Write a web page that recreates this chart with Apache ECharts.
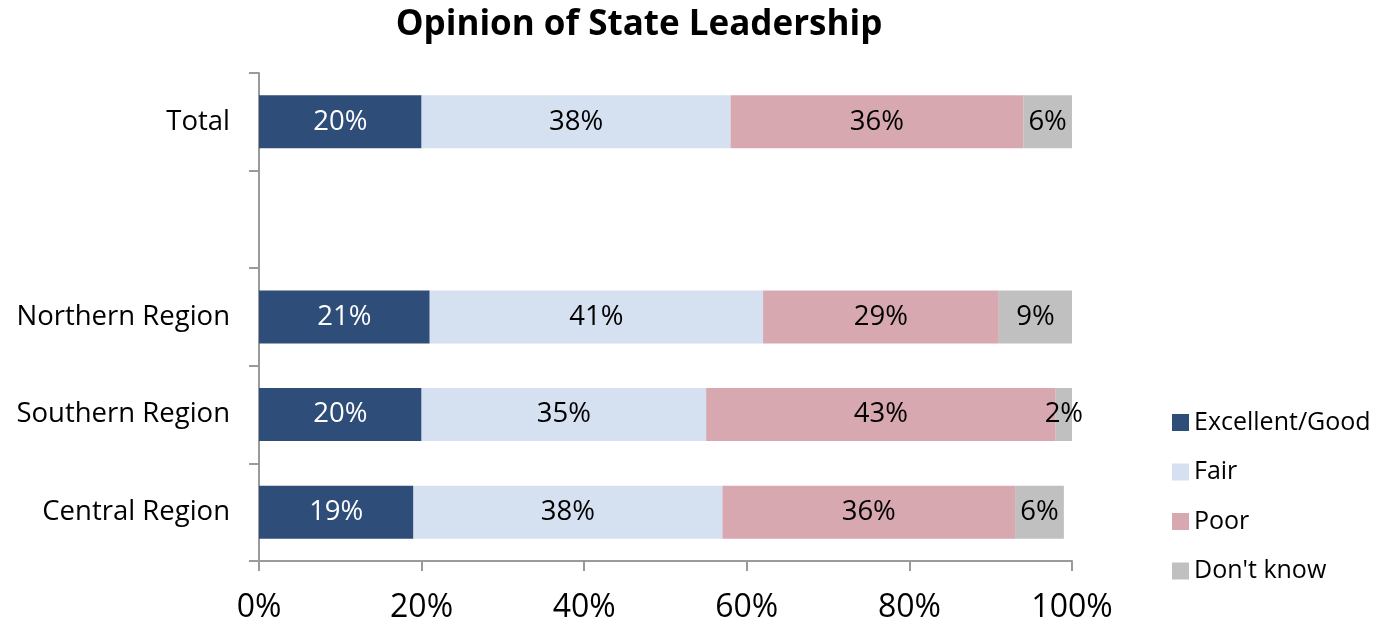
<!DOCTYPE html>
<html>
<head>
<meta charset="utf-8">
<script src="https://cdn.jsdelivr.net/npm/echarts@6/dist/echarts.min.js"></script>
<style>
  html, body { margin: 0; padding: 0; background: #fff; }
  #chart { width: 1386px; height: 624px; }
</style>
</head>
<body>
<div id="chart"></div>
<script>
// categories, bottom to top (blank row between regions and Total)
var categories = ["Central Region", "Southern Region", "Northern Region", "", "Total"];
var seriesNames = ["Excellent/Good", "Fair", "Poor", "Don't know"];
var excellentGood = [19, 20, 21, null, 20];
var fair = [38, 35, 41, null, 38];
var poor = [36, 43, 29, null, 36];
var dontKnow = [6, 2, 9, null, 6];
var xTicks = [0, 20, 40, 60, 80, 100];

var colors = ["#2E4D78", "#D5E0F0", "#D8A8B0", "#C0C0C0"];
var labelColors = ["#ffffff", "#000000", "#000000", "#000000"];
var values = [excellentGood, fair, poor, dontKnow];
var font = "'Open Sans', sans-serif";

var myChart = echarts.init(document.getElementById("chart"));

var series = seriesNames.map(function (name, i) {
  return {
    type: "bar",
    name: name,
    stack: "Total",
    barWidth: 53,
    itemStyle: { color: colors[i] },
    label: {
      show: true,
      position: "inside",
      color: labelColors[i],
      fontSize: 27.5,
      fontFamily: font,
      formatter: function (p) { return p.value + "%"; }
    },
    data: values[i]
  };
});

var option = {
  animation: false,
  title: {
    text: "Opinion of State Leadership",
    left: 634,
    top: 3,
    textAlign: "center",
    textStyle: { fontSize: 35, fontWeight: "bold", color: "#000", fontFamily: font }
  },
  legend: {
    orient: "vertical",
    left: 1167,
    top: 405,
    itemWidth: 17,
    itemHeight: 17,
    itemGap: 24.5,
    icon: "rect",
    textStyle: { fontSize: 25, color: "#000", fontFamily: font },
    data: seriesNames
  },
  grid: { left: 259, right: 314, top: 73, bottom: 62 },
  xAxis: {
    type: "value",
    min: 0,
    max: 100,
    interval: 20,
    axisLine: { show: true, lineStyle: { color: "#9A9A9A", width: 2 } },
    axisTick: { show: true, length: 10, lineStyle: { color: "#9A9A9A", width: 2 } },
    splitLine: { show: false },
    axisLabel: {
      margin: 31,
      fontSize: 32,
      color: "#000",
      fontFamily: font,
      formatter: function (v) { return xTicks.indexOf(v) >= 0 ? v + "%" : ""; }
    }
  },
  yAxis: {
    type: "category",
    data: categories,
    axisLine: { show: true, lineStyle: { color: "#9A9A9A", width: 2 } },
    axisTick: { show: true, length: 10, lineStyle: { color: "#9A9A9A", width: 2 } },
    axisLabel: { margin: 29, fontSize: 27.5, color: "#000", fontFamily: font }
  },
  series: series
};

myChart.setOption(option);
</script>
</body>
</html>
